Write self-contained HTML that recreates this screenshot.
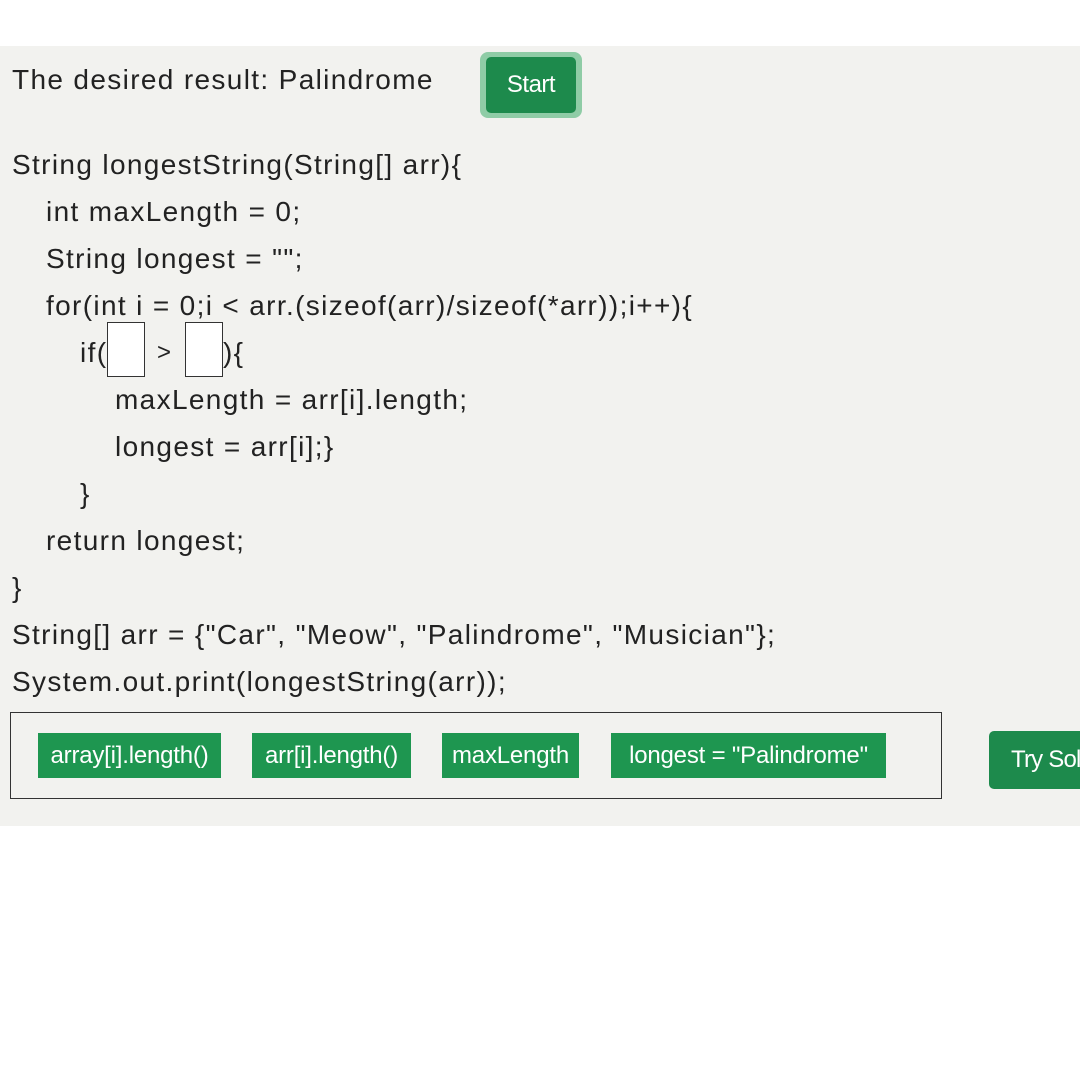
<!DOCTYPE html>
<html><head><style>
body{margin:0;width:1080px;height:1080px;background:#fff;position:relative;overflow:hidden;font-family:"Liberation Sans",sans-serif;color:#222}
.bg{position:absolute;left:0;top:46px;width:1080px;height:780px;background:#f2f2ef}
.l{position:absolute;font-size:28px;white-space:nowrap;line-height:32px;letter-spacing:1.35px}
.box{position:absolute;width:38px;height:55px;background:#fff;border:1.5px solid #333;box-sizing:border-box}
.chip{position:absolute;top:733px;height:45px;background:#1e9650;color:#fff;font-size:24px;line-height:45px;text-align:center;letter-spacing:-0.2px}
.btn{position:absolute;background:#1d8a4c;color:#fff;font-size:24px;border-radius:5px;text-align:center}
</style></head><body>
<div class="bg"></div>
<div class="l" style="left:12px;top:64px">The desired result: Palindrome</div>
<div class="btn" style="left:480px;top:52px;width:102px;height:66px;background:#8fcca6;border-radius:8px"></div>
<div class="btn" style="left:486px;top:57px;width:90px;height:56px;line-height:56px;letter-spacing:-0.5px">Start</div>
<div class="l" style="left:12px;top:149px">String longestString(String[] arr){</div>
<div class="l" style="left:46px;top:196px">int maxLength = 0;</div>
<div class="l" style="left:46px;top:243px">String longest = "";</div>
<div class="l" style="left:46px;top:290px">for(int i = 0;i &lt; arr.(sizeof(arr)/sizeof(*arr));i++){</div>
<div class="l" style="left:80px;top:337px">if(</div>
<div class="box" style="left:107px;top:322px"></div>
<div class="l" style="left:157px;top:337px;font-size:24px">&gt;</div>
<div class="box" style="left:185px;top:322px"></div>
<div class="l" style="left:223px;top:337px">){</div>
<div class="l" style="left:115px;top:384px">maxLength = arr[i].length;</div>
<div class="l" style="left:115px;top:431px">longest = arr[i];}</div>
<div class="l" style="left:80px;top:478px">}</div>
<div class="l" style="left:46px;top:525px">return longest;</div>
<div class="l" style="left:12px;top:572px">}</div>
<div class="l" style="left:12px;top:619px">String[] arr = {"Car", "Meow", "Palindrome", "Musician"};</div>
<div class="l" style="left:12px;top:666px">System.out.print(longestString(arr));</div>
<div style="position:absolute;left:10px;top:712px;width:932px;height:87px;border:1.5px solid #333;box-sizing:border-box"></div>
<div class="chip" style="left:38px;width:183px">array[i].length()</div>
<div class="chip" style="left:252px;width:159px">arr[i].length()</div>
<div class="chip" style="left:442px;width:137px">maxLength</div>
<div class="chip" style="left:611px;width:275px">longest = "Palindrome"</div>
<div class="btn" style="left:989px;top:731px;width:120px;height:58px;line-height:58px;text-align:left;padding-left:22px;box-sizing:border-box;white-space:nowrap;letter-spacing:-0.8px">Try Solution</div>
</body></html>
